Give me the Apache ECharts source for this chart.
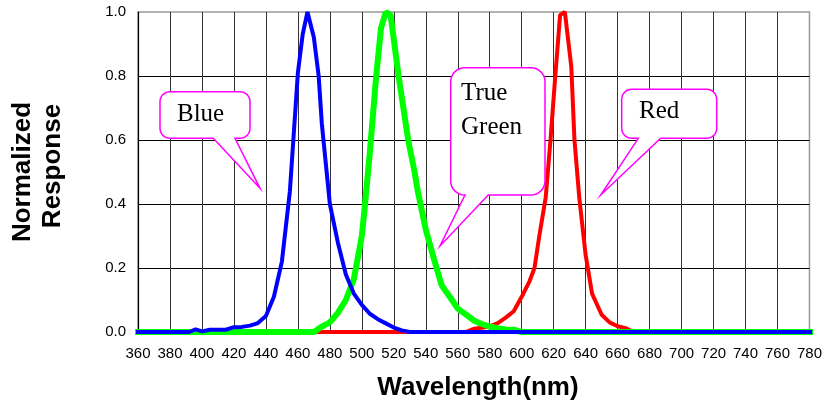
<!DOCTYPE html>
<html>
<head>
<meta charset="utf-8">
<script src="https://cdn.jsdelivr.net/npm/echarts@6/dist/echarts.min.js"></script>
<style>
html,body{margin:0;padding:0;background:#fff;}
#c{width:825px;height:407px;}
</style>
</head>
<body>
<div id="c"></div>
<script>
// ---- data ----
var xTicks = [360,380,400,420,440,460,480,500,520,540,560,580,600,620,640,660,680,700,720,740,760,780];
var yTicks = [0.0,0.2,0.4,0.6,0.8,1.0];

var blueWl  = [353,392,396,400,405,415,420,425,430,435,440,445,450,455,460,463,466,470,473,475,480,485,490,495,500,505,510,515,520,525,530,790];
var blueVal = [0,0,0.008,0.002,0.007,0.007,0.015,0.016,0.02,0.028,0.05,0.11,0.22,0.44,0.81,0.93,1.0,0.92,0.8,0.65,0.40,0.28,0.18,0.12,0.085,0.057,0.04,0.027,0.014,0.005,0,0];

var greenWl  = [353,470,475,480,485,490,495,500,502,505,509,512,515,518,523,529,533,535,540,545,550,555,560,565,570,575,580,585,590,595,600,790];
var greenVal = [0,0,0.017,0.03,0.06,0.1,0.165,0.3,0.4,0.56,0.8,0.95,1.0,0.99,0.8,0.6,0.5,0.44,0.32,0.23,0.145,0.11,0.073,0.055,0.036,0.025,0.017,0.012,0.008,0.007,0,0];

var redWl  = [353,565,570,575,580,585,590,595,600,605,608,611,615,618,621,624,627,631,633,636,640,644,650,655,660,665,670,790];
var redVal = [0,0,0.01,0.013,0.018,0.028,0.045,0.065,0.11,0.16,0.2,0.3,0.42,0.6,0.8,0.99,1.0,0.83,0.6,0.42,0.24,0.12,0.054,0.03,0.018,0.012,0,0];

var calloutLabels = ['Blue', 'True\nGreen', 'Red'];

function pairs(a, b){ return a.map(function(v,i){ return [v, b[i]]; }); }

// rounded-rectangle speech bubble outline as polygon points
function bubblePoints(x1,y1,x2,y2,r,ta,tb,tx,ty){
  var pts = [];
  function arc(cx,cy,a0,a1){
    for (var k=0;k<=8;k++){
      var a = a0 + (a1-a0)*k/8;
      pts.push([cx + r*Math.cos(a), cy + r*Math.sin(a)]);
    }
  }
  arc(x1+r, y1+r, Math.PI, 1.5*Math.PI);       // top-left
  arc(x2-r, y1+r, 1.5*Math.PI, 2*Math.PI);     // top-right
  arc(x2-r, y2-r, 0, 0.5*Math.PI);             // bottom-right
  pts.push([tb,y2]); pts.push([tx,ty]); pts.push([ta,y2]);
  arc(x1+r, y2-r, 0.5*Math.PI, Math.PI);       // bottom-left
  return pts;
}

var chart = echarts.init(document.getElementById('c'), null, {renderer:'canvas'});
var bubbleStyle = {fill:'#fff', stroke:'#ff00ff', lineWidth:1.5};
var serifFont = '25px "Liberation Serif", "Times New Roman", serif';
var boldTitle = 'bold 26px "Liberation Sans", Arial, sans-serif';

var option = {
  backgroundColor:'#fff',
  animation:false,
  grid:{left:138, top:12, width:674, height:320, show:true, borderColor:'#999', borderWidth:1.5, backgroundColor:'transparent'},
  xAxis:{
    type:'value', min:360, max:780, interval:20,
    axisLine:{show:true, lineStyle:{color:'#000', width:1}},
    axisTick:{show:false},
    axisLabel:{color:'#000', fontSize:15, fontFamily:'"Liberation Sans", Arial, sans-serif', margin:14},
    splitLine:{show:true, showMinLine:false, showMaxLine:false, lineStyle:{color:'#333', width:1}}
  },
  yAxis:{
    type:'value', min:0, max:1, interval:0.2,
    axisLine:{show:true, lineStyle:{color:'#000', width:1.2}},
    axisTick:{show:false},
    axisLabel:{color:'#000', fontSize:15, fontFamily:'"Liberation Sans", Arial, sans-serif', margin:12,
      formatter:function(v){ return v.toFixed(1); }},
    splitLine:{show:true, showMinLine:false, showMaxLine:false, lineStyle:{color:'#000', width:1}}
  },
  series:[
    {type:'line', name:'Red', data:pairs(redWl, redVal), showSymbol:false, clip:false, z:2,
     lineStyle:{color:'#ff0000', width:4}, itemStyle:{color:'#ff0000'}},
    {type:'line', name:'True Green', data:pairs(greenWl, greenVal), showSymbol:false, clip:false, z:3,
     lineStyle:{color:'#00ff00', width:6}, itemStyle:{color:'#00ff00'}},
    {type:'line', name:'Blue', data:pairs(blueWl, blueVal), showSymbol:false, clip:false, z:4,
     lineStyle:{color:'#0000ff', width:4}, itemStyle:{color:'#0000ff'}}
  ],
  graphic:[
    {type:'polygon', z:100, shape:{points:bubblePoints(160,91.7,250,138.3,10,213.3,235,260,188.3)}, style:bubbleStyle},
    {type:'text', z:101, x:177, y:114, style:{text:calloutLabels[0], font:serifFont, fill:'#000', align:'left', verticalAlign:'middle'}},
    {type:'polygon', z:100, shape:{points:bubblePoints(450.7,67.7,545,195,14,465,488.3,440,246)}, style:bubbleStyle},
    {type:'text', z:101, x:461, y:110.5, style:{text:calloutLabels[1], font:serifFont, lineHeight:34, fill:'#000', align:'left', verticalAlign:'middle'}},
    {type:'polygon', z:100, shape:{points:bubblePoints(621.7,89.3,716.7,138.3,10,638.3,660.7,600.7,195)}, style:bubbleStyle},
    {type:'text', z:101, x:639, y:111, style:{text:calloutLabels[2], font:serifFont, fill:'#000', align:'left', verticalAlign:'middle'}},
    {type:'text', z:101, x:478, y:388, style:{text:'Wavelength(nm)', font:boldTitle, fill:'#000', align:'center', verticalAlign:'middle'}},
    {type:'text', z:101, x:22.5, y:172, rotation:Math.PI/2, style:{text:'Normalized', font:boldTitle, fill:'#000', align:'center', verticalAlign:'middle'}},
    {type:'text', z:101, x:53, y:166, rotation:Math.PI/2, style:{text:'Response', font:boldTitle, fill:'#000', align:'center', verticalAlign:'middle'}}
  ]
};
chart.setOption(option);
</script>
</body>
</html>
